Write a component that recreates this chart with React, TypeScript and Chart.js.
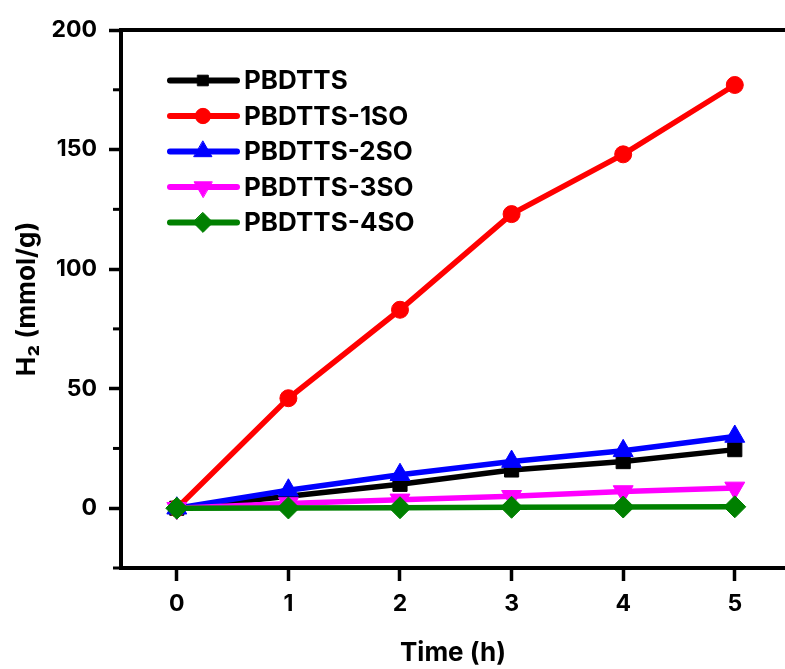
import React, { useEffect, useRef } from 'react';
import { Chart, registerables } from 'chart.js';

Chart.register(...registerables);

const times = [0, 1, 2, 3, 4, 5];
const seriesNames = ['PBDTTS', 'PBDTTS-1SO', 'PBDTTS-2SO', 'PBDTTS-3SO', 'PBDTTS-4SO'];
const pbdtts = [0, 5, 10, 16, 19.5, 24.5];
const pbdtts1so = [0, 46, 83, 123, 148, 177];
const pbdtts2so = [0, 7.5, 14, 19.5, 24, 30];
const pbdtts3so = [0, 2, 3.5, 5, 7, 8.5];
const pbdtts4so = [0, 0.1, 0.2, 0.4, 0.5, 0.6];
const seriesValues = [pbdtts, pbdtts1so, pbdtts2so, pbdtts3so, pbdtts4so];
const seriesColors = ['#000000', '#ff0000', '#0000ff', '#ff00ff', '#008000'];
const seriesMarkers = ['rect', 'circle', 'triangle', 'triangle', 'rectRot'];
const seriesRotations = [0, 0, 0, 180, 0];
const seriesRadii = [10, 8.5, 11.5, 11.5, 11];
const xTicks = [0, 1, 2, 3, 4, 5];
const yTicks = [0, 50, 100, 150, 200];
const yMinorTicks = [-25, 25, 75, 125, 175];

const FONT = 'Inter';

function drawMarker(ctx: CanvasRenderingContext2D, style: string, rotDeg: number, x: number, y: number, r: number, color: string) {
  ctx.save();
  ctx.fillStyle = color;
  ctx.strokeStyle = color;
  ctx.lineWidth = 1;
  ctx.beginPath();
  let rad = (rotDeg * Math.PI) / 180;
  if (style === 'rect') {
    const s = r * Math.SQRT1_2;
    ctx.rect(x - s, y - s, 2 * s, 2 * s);
  } else if (style === 'circle') {
    ctx.arc(x, y, r, 0, Math.PI * 2);
  } else if (style === 'triangle') {
    ctx.moveTo(x + Math.sin(rad) * r, y - Math.cos(rad) * r);
    rad += (2 * Math.PI) / 3;
    ctx.lineTo(x + Math.sin(rad) * r, y - Math.cos(rad) * r);
    rad += (2 * Math.PI) / 3;
    ctx.lineTo(x + Math.sin(rad) * r, y - Math.cos(rad) * r);
    ctx.closePath();
  } else if (style === 'rectRot') {
    ctx.moveTo(x, y - r);
    ctx.lineTo(x + r, y);
    ctx.lineTo(x, y + r);
    ctx.lineTo(x - r, y);
    ctx.closePath();
  }
  ctx.fill();
  ctx.stroke();
  ctx.restore();
}

const decorPlugin = {
  id: 'decor',
  afterDraw(chart: any) {
    const { ctx, chartArea } = chart;
    const ys = chart.scales.y;
    ctx.save();
    ctx.strokeStyle = '#000';
    ctx.lineWidth = 4;
    ctx.beginPath();
    ctx.moveTo(chartArea.left - 2, chartArea.top);
    ctx.lineTo(chartArea.right, chartArea.top);
    ctx.stroke();
    ctx.lineWidth = 3;
    for (const v of yMinorTicks) {
      const py = ys.getPixelForValue(v);
      ctx.beginPath();
      ctx.moveTo(chartArea.left - 8, py);
      ctx.lineTo(chartArea.left, py);
      ctx.stroke();
    }
    // legend
    const lx0 = chartArea.left + 49;
    const lx1 = chartArea.left + 116;
    const mx = chartArea.left + 82;
    const tx = chartArea.left + 123;
    const ty0 = chartArea.top + 50.5;
    const dy = 35.5;
    ctx.font = `bold 26px "${FONT}"`;
    ctx.textBaseline = 'middle';
    ctx.textAlign = 'left';
    seriesNames.forEach((name, i) => {
      const yy = ty0 + dy * i;
      ctx.strokeStyle = seriesColors[i];
      ctx.lineWidth = 6;
      ctx.lineCap = 'round';
      ctx.beginPath();
      ctx.moveTo(lx0, yy);
      ctx.lineTo(lx1, yy);
      ctx.stroke();
      const rr = i === 0 ? 7.5 : seriesRadii[i] * 0.9;
      drawMarker(ctx, seriesMarkers[i], seriesRotations[i], mx, yy, rr, seriesColors[i]);
      ctx.fillStyle = '#000';
      ctx.fillText(name, tx, yy + 1);
    });
    ctx.restore();
  },
};

export default function App() {
  const ref = useRef<HTMLCanvasElement>(null);
  useEffect(() => {
    if (!ref.current) return;
    const tickFont = { family: FONT, size: 23, weight: 'bold' as const };
    const titleFont = { family: FONT, size: 26, weight: 'bold' as const };
    const datasets = seriesNames.map((name, i) => ({
      label: name,
      data: times.map((t, j) => ({ x: t, y: seriesValues[i][j] })),
      borderColor: seriesColors[i],
      backgroundColor: seriesColors[i],
      borderWidth: 5.5,
      pointStyle: seriesMarkers[i] as any,
      rotation: seriesRotations[i],
      pointRadius: seriesRadii[i],
      pointBorderWidth: 1,
      pointBackgroundColor: seriesColors[i],
      pointBorderColor: seriesColors[i],
      tension: 0,
      order: 5 - i,
    }));
    const chart = new Chart(ref.current, {
      type: 'line',
      data: { datasets },
      plugins: [decorPlugin],
      options: {
        animation: false,
        responsive: false,
        devicePixelRatio: 1,
        layout: { autoPadding: false, padding: { top: 30, left: 0, right: 0, bottom: 0 } },
        plugins: { legend: { display: false }, tooltip: { enabled: false } },
        scales: {
          x: {
            type: 'linear',
            min: -0.5,
            max: 5.45,
            afterBuildTicks: (s: any) => {
              s.ticks = xTicks.map((v) => ({ value: v }));
            },
            afterFit: (s: any) => {
              s.height = 101;
              s.paddingRight = 0;
              s.paddingLeft = 0;
            },
            grid: { drawOnChartArea: false, drawTicks: true, tickLength: 13, tickWidth: 3.5, tickColor: '#000' },
            border: { display: true, color: '#000', width: 4 },
            ticks: { color: '#000', font: tickFont, padding: 9, maxRotation: 0, autoSkip: false },
            title: { display: true, text: 'Time (h)', color: '#000', font: titleFont, padding: { top: 0, bottom: 0 } },
          },
          y: {
            type: 'linear',
            min: -25,
            max: 200,
            afterBuildTicks: (s: any) => {
              s.ticks = yTicks.map((v) => ({ value: v }));
            },
            afterFit: (s: any) => {
              s.width = 121;
            },
            grid: { drawOnChartArea: false, drawTicks: true, tickLength: 12, tickWidth: 3.5, tickColor: '#000' },
            border: { display: true, color: '#000', width: 4 },
            ticks: { color: '#000', font: tickFont, padding: 12, autoSkip: false },
            title: { display: true, text: 'H₂ (mmol/g)', color: '#000', font: titleFont, padding: { top: 12, bottom: 0 } },
          },
        },
      },
    });
    return () => chart.destroy();
  }, []);
  return (
    <div style={{ position: 'absolute', left: 0, top: 0, width: 785, height: 669 }}>
      <canvas ref={ref} width={785} height={669} style={{ width: 785, height: 669, display: 'block' }} />
    </div>
  );
}
